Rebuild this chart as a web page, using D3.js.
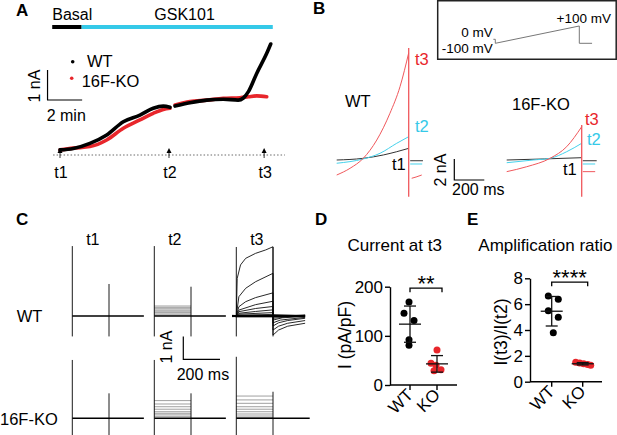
<!DOCTYPE html>
<html>
<head>
<meta charset="utf-8">
<script src="https://cdn.jsdelivr.net/npm/d3@7"></script>
<style>
  body { margin: 0; background: #fff; }
  svg text { font-family: "Liberation Sans", Arial, sans-serif; }
</style>
</head>
<body>
<svg id="fig" width="617" height="435"></svg>
<script>
// ---------------- data ----------------
// A: current over time (min, nA)
const aTimeWT = [0, 0.77, 1.73, 2.70, 3.66, 4.62, 5.39, 5.97, 6.36, 6.65, 7.51, 8.48, 9.44, 10.3, 10.6, 10.9, 11.37, 11.95, 12.18];
const aCurrWT = [0.17, 0.22, 0.39, 0.67, 1.11, 1.33, 1.56, 1.63, 1.59, 1.63, 1.74, 1.83, 1.86, 1.83, 1.9, 2.12, 2.72, 3.39, 3.7];
const aTimeKO = [0, 0.77, 1.73, 2.70, 3.66, 4.62, 5.39, 5.97, 6.36, 6.65, 7.51, 8.48, 9.44, 10.4, 10.88, 11.37, 11.95];
const aCurrKO = [0.17, 0.23, 0.28, 0.5, 0.89, 1.17, 1.39, 1.52, 1.56, 1.67, 1.78, 1.83, 1.89, 1.91, 1.94, 1.97, 1.94];
const aMarkNames = ["t1", "t2", "t3"];
const aMarkTimes = [0, 6.3, 11.8];
const stimNames = ["Basal", "GSK101"];
const stimFrom = [-0.45, 1.25];
const stimTo = [1.25, 12.3];

// B: ramp currents [ms, nA]
const bWT1 = [[0, 0], [177, 0.16], [311, 0.48], [400, 0.79], [480, 1.11]];
const bWT2 = [[0, -0.31], [177, 0.10], [289, 0.64], [400, 1.59], [480, 2.22]];
const bWT3 = [[0, -1.43], [89, -0.79], [177, 0.16], [267, 1.90], [355, 4.45], [422, 6.98], [480, 10.2]];
const bWT1tail = [[490, -0.07], [575, -0.07]];
const bWT2tail = [[490, -0.38], [570, -0.38]];
const bWT3tail = [[500, -1.74], [529, -1.62], [567, -1.43]];
const bWTspike = [10.67, -3.5];
const bKO1 = [[-20, 0], [230, 0.1], [480, 0.22]];
const bKO2 = [[-20, -0.26], [157, 0], [269, 0.16], [380, 0.79], [480, 1.59]];
const bKO3 = [[-20, -1.11], [113, -0.64], [269, 0.16], [380, 1.27], [480, 3.17]];
const bKO1tail = [[487, -0.07], [580, -0.07]];
const bKO2tail = [[487, -0.38], [570, -0.38]];
const bKO3tail = [[487, -1.11], [570, -1.11]];
const bKOspike = [3.33, -3.5];
// voltage protocol (ms, mV)
const vTime = [-11, 0, 0, 480, 480, 553];
const vMilli = [0, 0, -100, 100, -100, -100];

// C: step families (nA)
const cCols = ["t1", "t2", "t3"];
const cRows = ["WT", "16F-KO"];
const wtT2Levels = [0.44, 0.38, 0.32, 0.26, 0.21, 0.15, 0.09, 0.04];
const koT2Levels = [0.78, 0.63, 0.51, 0.40, 0.29, 0.22, 0.15, 0.07];
const koT3Levels = [0.98, 0.81, 0.66, 0.51, 0.40, 0.29, 0.19, 0.10, 0.03];
const wtT3Traces = [
  [[-23, 0], [0, 0], [5, 1.66], [23, 2.25], [51, 2.54], [105, 2.76], [160, 2.91], [200, 3.05], [200, -0.84], [230, -0.62], [280, -0.45], [375, -0.32]],
  [[-23, 0], [0, 0], [14, 0.85], [51, 1.22], [105, 1.51], [200, 1.88], [200, -0.62], [230, -0.45], [280, -0.32], [375, -0.2]],
  [[-23, 0], [0, 0], [14, 0.41], [51, 0.63], [105, 0.81], [200, 1.02], [200, -0.44], [230, -0.3], [280, -0.2], [375, -0.1]],
  [[-23, 0], [0, 0], [14, 0.26], [105, 0.5], [200, 0.65], [200, -0.3], [240, -0.18], [375, -0.06]],
  [[-23, 0], [0, 0], [14, 0.19], [105, 0.33], [200, 0.42], [200, -0.18], [250, -0.08], [375, -0.02]],
  [[-23, 0.02], [0, 0], [14, 0.12], [105, 0.2], [200, 0.27], [200, -0.1], [375, 0.03]],
  [[-23, -0.02], [0, 0], [14, 0.08], [200, 0.15], [200, -0.05], [375, 0.05]],
  [[-23, 0.03], [0, 0.02], [14, 0.04], [200, 0.07], [200, 0.03], [375, -0.04]],
  [[-23, -0.03], [0, -0.02], [200, 0.01], [200, 0.06], [375, 0.02]],
  [[-23, 0], [0, -0.04], [200, -0.04], [200, -0.03], [375, 0.0]]
];
const wtOnTop = [3.08, 3.08, 3.04];
const wtOffTop = [1.41, 1.29, 3.04];
const koOnTop = [2.57, 2.57, 2.71];
const koOffTop = [1.1, 1.1, 1.17];
const capBottom = -0.9;

// D / E: scatter
const dGroups = ["WT", "KO"];
const dWT = [169, 146, 131, 92, 81];
const dKO = [71, 44, 40, 31, 29];
const eWT = [6.63, 6.37, 5.49, 4.98, 3.79];
const eKO = [1.5, 1.45, 1.38, 1.33, 1.28];
const dTicks = [0, 100, 200];
const eTicks = [0, 2, 4, 6, 8];

// ---------------- drawing ----------------
const svg = d3.select("#fig");
const RED = "#e8262b", CYAN = "#35c9e8", TRED = "#f0585c", TCYAN = "#45d2ec";

function txt(g, x, y, s, o = {}) {
  const t = g.append("text").attr("x", x).attr("y", y).text(s)
    .attr("font-size", o.size || 16).attr("fill", o.fill || "#000");
  if (o.anchor) t.attr("text-anchor", o.anchor);
  if (o.weight) t.attr("font-weight", o.weight);
  if (o.rotate != null) t.attr("transform", `rotate(${o.rotate},${x},${y})`);
  return t;
}

// panel letters
[["A", 16, 16], ["B", 313, 14], ["C", 16, 225], ["D", 315, 225], ["E", 467, 225]]
  .forEach(([l, x, y]) => txt(svg, x, y, l, {size: 17, weight: "bold"}));

// ---- A ----
const xA = d3.scaleLinear().domain([0, 12]).range([60, 60 + 17.3 * 12]);
const yA = d3.scaleLinear().domain([0, 4]).range([155, 35]);

stimNames.forEach((n, i) => {
  svg.append("line")
    .attr("x1", xA(stimFrom[i])).attr("x2", xA(stimTo[i]))
    .attr("y1", 27).attr("y2", 27)
    .attr("stroke", i === 0 ? "#000" : CYAN).attr("stroke-width", 4);
});
txt(svg, xA(stimFrom[0]), 20, stimNames[0]);
txt(svg, xA(7.2), 20, stimNames[1], {anchor: "middle"});

svg.append("line")
  .attr("x1", xA(-0.4)).attr("x2", xA(13.0))
  .attr("y1", yA(0)).attr("y2", yA(0))
  .attr("stroke", "#444").attr("stroke-width", 0.8).attr("stroke-dasharray", "1.5,2");

const lineA = d3.line().x(d => xA(d[0])).y(d => yA(d[1])).curve(d3.curveMonotoneX);
function drawA(times, currs, color) {
  const pts = times.map((t, i) => [t, currs[i]]);
  [pts.filter(p => p[0] < 6.5), pts.filter(p => p[0] > 6.5)].forEach(seg => {
    svg.append("path").attr("d", lineA(seg))
      .attr("fill", "none").attr("stroke", color)
      .attr("stroke-width", 3.6).attr("stroke-linecap", "round");
  });
}
drawA(aTimeKO, aCurrKO, RED);
drawA(aTimeWT, aCurrWT, "#000");

aMarkTimes.forEach((t, i) => {
  const x = xA(t), y = yA(0);
  svg.append("line").attr("x1", x).attr("x2", x).attr("y1", y - 3).attr("y2", y + 3)
    .attr("stroke", "#000").attr("stroke-width", 0.8);
  svg.append("path").attr("d", `M${x},${y - 7}L${x - 2.5},${y - 2}L${x + 2.5},${y - 2}Z`).attr("fill", "#000");
  txt(svg, x + 1, 178, aMarkNames[i], {anchor: "middle"});
});

// legend + scale bar
svg.append("circle").attr("cx", 72.7).attr("cy", 61.7).attr("r", 1.8).attr("fill", "#000");
txt(svg, 87, 67, "WT", {size: 16.5});
svg.append("circle").attr("cx", 71.7).attr("cy", 78.3).attr("r", 1.8).attr("fill", RED);
txt(svg, 81.7, 87.3, "16F-KO", {size: 16.5});

const sbx = xA(-0.72);
svg.append("path")
  .attr("d", `M${sbx},${yA(2.833)}V${yA(1.833)}H${xA(1.28)}`)
  .attr("fill", "none").attr("stroke", "#000").attr("stroke-width", 1.2);
txt(svg, 40, 86, "1 nA", {anchor: "middle", rotate: -90});
txt(svg, 46.7, 120.7, "2 min");

// ---- B ----
svg.append("rect").attr("x", 437.7).attr("y", 0.75).attr("width", 178.5).attr("height", 58.5)
  .attr("fill", "none").attr("stroke", "#222").attr("stroke-width", 1.5);
const xV = d3.scaleLinear().domain([0, 480]).range([495.3, 579.3]);
const yV = d3.scaleLinear().domain([-100, 0, 100]).range([43.3, 39.3, 26]);
svg.append("path")
  .attr("d", d3.line().x((d, i) => xV(vTime[i])).y((d, i) => yV(vMilli[i]))(vTime))
  .attr("fill", "none").attr("stroke", "#777").attr("stroke-width", 1);
txt(svg, 611, 23.3, "+100 mV", {size: 13.5, anchor: "end"});
txt(svg, 492.7, 37.3, "0 mV", {size: 13.5, anchor: "end"});
txt(svg, 492.7, 53.3, "-100 mV", {size: 13.5, anchor: "end"});

const yB = d3.scaleLinear().domain([0, 1]).range([160, 149.5]);
const xBwt = d3.scaleLinear().domain([0, 480]).range([336.7, 408.7]);
const xBko = d3.scaleLinear().domain([0, 480]).range([509.7, 581.7]);

function drawRamp(xs, sets, spike) {
  const ln = d3.line().x(d => xs(d[0])).y(d => yB(d[1])).curve(d3.curveMonotoneX);
  sets.forEach(([pts, col]) => {
    svg.append("path").attr("d", ln(pts)).attr("fill", "none")
      .attr("stroke", col).attr("stroke-width", 1);
  });
  svg.append("line").attr("x1", xs(480)).attr("x2", xs(480))
    .attr("y1", yB(spike[0])).attr("y2", yB(spike[1]))
    .attr("stroke", TRED).attr("stroke-width", 1.3);
}
drawRamp(xBwt, [[bWT1, "#333"], [bWT2, TCYAN], [bWT3, TRED], [bWT1tail, "#333"], [bWT2tail, TCYAN], [bWT3tail, TRED]], bWTspike);
drawRamp(xBko, [[bKO1, "#333"], [bKO2, TCYAN], [bKO3, TRED], [bKO1tail, "#333"], [bKO2tail, TCYAN], [bKO3tail, TRED]], bKOspike);

txt(svg, 345, 106.7, "WT", {size: 16.5});
txt(svg, 512, 110, "16F-KO", {size: 16.5});
txt(svg, 415, 65, "t3", {fill: RED, size: 16.5});
txt(svg, 415, 131.7, "t2", {fill: CYAN, size: 16.5});
txt(svg, 392, 170, "t1", {size: 16.5});
txt(svg, 585, 125, "t3", {fill: RED, size: 16.5});
txt(svg, 587, 145, "t2", {fill: CYAN, size: 16.5});
txt(svg, 563, 175, "t1", {size: 16.5});

const sbBx = 454.3, sbBy = 180;
svg.append("path")
  .attr("d", `M${sbBx},${sbBy - (yB(0) - yB(2))}V${sbBy}H${sbBx + xBwt(200) - xBwt(0)}`)
  .attr("fill", "none").attr("stroke", "#000").attr("stroke-width", 1.2);
txt(svg, 446, 170, "2 nA", {anchor: "middle", rotate: -90});
txt(svg, 452, 195, "200 ms");

// ---- C ----
const colX = d3.scalePoint().domain(cCols).range([72.3, 236.3]);
const rowY = d3.scalePoint().domain(cRows).range([316, 418.3]);
const xC = d3.scaleLinear().domain([0, 200]).range([0, 36.7]);
const yC = d3.scaleLinear().domain([0, 1]).range([0, -22.7]);
const lineC = d3.line().x(d => xC(d[0])).y(d => yC(d[1]));

cCols.forEach(c => txt(svg, colX(c) + 20.5, 245, c, {anchor: "middle"}));
txt(svg, 16.7, 321.7, "WT", {size: 16.5});
txt(svg, 0, 425, "16F-KO", {size: 16.5});

cRows.forEach(r => {
  cCols.forEach((c, ci) => {
    const g = svg.append("g").attr("transform", `translate(${colX(c)},${rowY(r)})`);
    let levels = [];
    if (r === "WT" && c === "t2") levels = wtT2Levels;
    if (r === "16F-KO" && c === "t2") levels = koT2Levels;
    if (r === "16F-KO" && c === "t3") levels = koT3Levels;
    levels.forEach(L => {
      g.append("path").attr("d", lineC([[0, L], [200, L]]))
        .attr("stroke", "#888").attr("stroke-width", 0.8).attr("fill", "none");
    });
    if (r === "WT" && c === "t3") {
      wtT3Traces.forEach(tr => {
        g.append("path").attr("d", lineC(tr)).attr("fill", "none")
          .attr("stroke", "#111").attr("stroke-width", 0.9);
      });
      g.append("path").attr("d", lineC([[-23, 0], [375, 0]])).attr("fill", "none")
        .attr("stroke", "#000").attr("stroke-width", 2.2);
    } else {
      const end = (r === "16F-KO" && c === "t3") ? 400 : 390;
      g.append("path").attr("d", lineC([[0, 0], [end, 0]])).attr("fill", "none")
        .attr("stroke", "#000").attr("stroke-width", 1.4);
    }
    const onTop = r === "WT" ? wtOnTop[ci] : koOnTop[ci];
    const offTop = r === "WT" ? wtOffTop[ci] : koOffTop[ci];
    [[0, onTop], [200, offTop]].forEach(([t, top]) => {
      g.append("line").attr("x1", xC(t)).attr("x2", xC(t))
        .attr("y1", yC(top)).attr("y2", yC(capBottom))
        .attr("stroke", "#000").attr("stroke-width", 0.9);
    });
  });
});

const sbCx = 183.3, sbCy = 359.3;
svg.append("path")
  .attr("d", `M${sbCx},${sbCy + yC(1)}V${sbCy}H${sbCx + xC(200)}`)
  .attr("fill", "none").attr("stroke", "#000").attr("stroke-width", 1.2);
txt(svg, 172, 347, "1 nA", {anchor: "middle", rotate: -90});
txt(svg, 176.7, 380, "200 ms");

// ---- D / E ----
function dotPlot(o) {
  const y = d3.scaleLinear().domain(o.domain).range(o.yr);
  const x = d3.scalePoint().domain(dGroups).range(o.xr);
  const g = svg.append("g");
  const ax = g.append("g").attr("transform", `translate(${o.axisX},0)`)
    .call(d3.axisLeft(y).tickValues(o.ticks).tickSize(5).tickSizeOuter(0).tickPadding(2));
  ax.selectAll("path,line").attr("stroke", "#000").attr("stroke-width", 1.4);
  ax.selectAll("text").attr("font-size", 17).attr("font-family", "'Liberation Sans', Arial, sans-serif");
  g.append("line").attr("x1", o.axisX).attr("x2", o.xEnd).attr("y1", y(0)).attr("y2", y(0))
    .attr("stroke", "#000").attr("stroke-width", 1.4);
  dGroups.forEach(k => {
    g.append("line").attr("x1", x(k)).attr("x2", x(k)).attr("y1", y(0)).attr("y2", y(0) + 5)
      .attr("stroke", "#000").attr("stroke-width", 1.4);
    const lx = x(k) + 4, ly = y(0) + 11;
    txt(g, lx, ly, k, {size: 17, anchor: "end", rotate: -45});
  });
  [[o.wt, o.jWT, "#000", "WT"], [o.ko, o.jKO, RED, "KO"]].forEach(([vals, jit, col, k]) => {
    vals.forEach((v, i) => {
      g.append("circle").attr("cx", x(k) + jit[i]).attr("cy", y(v)).attr("r", 3.5).attr("fill", col);
    });
    const m = d3.mean(vals), sd = d3.deviation(vals), cx = x(k);
    g.append("line").attr("x1", cx - 11).attr("x2", cx + 11).attr("y1", y(m)).attr("y2", y(m))
      .attr("stroke", "#111").attr("stroke-width", 1.3);
    g.append("line").attr("x1", cx).attr("x2", cx).attr("y1", y(m - sd)).attr("y2", y(m + sd))
      .attr("stroke", "#111").attr("stroke-width", 1.3);
    [m - sd, m + sd].forEach(e => g.append("line").attr("x1", cx - 6).attr("x2", cx + 6)
      .attr("y1", y(e)).attr("y2", y(e)).attr("stroke", "#111").attr("stroke-width", 1.3));
  });
  const sy = y(o.sigAt), x1 = x("WT"), x2 = x("KO") + 5;
  g.append("path").attr("d", `M${x1},${sy + 4}V${sy}H${x2}V${sy + 4}`)
    .attr("fill", "none").attr("stroke", "#000").attr("stroke-width", 1.3);
  txt(g, (x1 + x2) / 2, sy + 2.5, o.stars, {size: 22, anchor: "middle"});
  txt(g, o.labX, o.labY, o.label, {size: 17.5, anchor: "middle", rotate: -90});
  txt(g, o.titleX, 250.7, o.title, {size: 17, anchor: o.titleAnchor});
}

dotPlot({domain: [0, 200], yr: [385, 286.7], xr: [410, 437], axisX: 390, xEnd: 457,
  ticks: dTicks, wt: dWT, ko: dKO, jWT: [-1, -6, 4, -1, -1], jKO: [0, -6, -1, 4, -3],
  sigAt: 197, stars: "**", label: "I (pA/pF)", labX: 351, labY: 335,
  title: "Current at t3", titleX: 394.7, titleAnchor: "middle"});
dotPlot({domain: [0, 8], yr: [381.7, 278.3], xr: [551.7, 582.7], axisX: 530, xEnd: 602,
  ticks: eTicks, wt: eWT, ko: eKO, jWT: [-3.4, 6.6, -3.4, 6.6, 1.6], jKO: [-7, -3, 1, 5, 8],
  sigAt: 7.7, stars: "****", label: "I(t3)/I(t2)", labX: 507, labY: 332,
  title: "Amplification ratio", titleX: 478.3, titleAnchor: "start"});
</script>
</body>
</html>
